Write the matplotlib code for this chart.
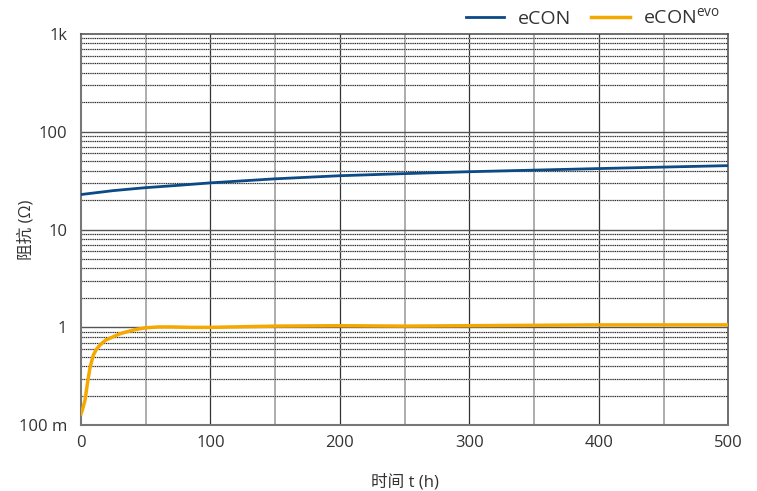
import numpy as np
import matplotlib.pyplot as plt
from matplotlib.ticker import FixedLocator, LogLocator, NullFormatter

plt.rcParams['font.family'] = ['Open Sans', 'Noto Sans CJK SC', 'DejaVu Sans']

# eCON (blue)
t_econ = [0, 25, 50, 75, 100, 150, 200, 250, 300, 350, 400, 450, 500]
r_econ = [22.8, 25.0, 26.8, 28.3, 30.0, 33.0, 35.5, 37.3, 39.0, 40.5, 42.0, 43.5, 45.0]

# eCON evo (orange)
t_evo = [0, 1.5, 3.1, 5, 7, 9.5, 12, 14.7, 19, 24.7, 30, 35.3, 42, 50, 60, 70, 85, 100,
         150, 200, 250, 300, 350, 400, 450, 500]
r_evo = [0.13, 0.15, 0.18, 0.27, 0.39, 0.52, 0.60, 0.66, 0.74, 0.80, 0.86, 0.90, 0.95,
         0.99, 1.01, 1.01, 1.0, 1.0, 1.03, 1.04, 1.03, 1.04, 1.05, 1.06, 1.06, 1.06]

y_ticks = [0.1, 1, 10, 100, 1000]
y_labels = ['100 m', '1', '10', '100', '1k']
x_ticks = [0, 100, 200, 300, 400, 500]

fig = plt.figure(figsize=(7.57, 4.91), dpi=100)
ax = fig.add_axes([0.107, 0.134, 0.855, 0.797])

ax.set_yscale('log')
ax.set_xlim(0, 500)
ax.set_ylim(0.1, 1000)

# grid
for x in range(50, 500, 100):
    ax.axvline(x, color='#a0a0a0', lw=1.2, zorder=1)
for x in range(100, 500, 100):
    ax.axvline(x, color='#333333', lw=0.9, zorder=1)
for d in [0.1, 1, 10, 100]:
    for m in range(2, 10):
        ax.axhline(d * m, color='#c8c8c8', lw=1.0, zorder=1)
        ax.axhline(d * m, color='#222222', lw=0.8, ls=(0, (1, 1)), zorder=1)
for d in [1, 10, 100]:
    ax.axhline(d, color='#555555', lw=1.0, zorder=1)

ax.plot(t_econ, r_econ, color='#0b4a86', lw=2, label='eCON', zorder=3)
ax.plot(t_evo, r_evo, color='#f5a800', lw=2.5, label='eCON$^{\\mathregular{evo}}$', zorder=3)

ax.yaxis.set_major_locator(FixedLocator(y_ticks))
ax.set_yticklabels(y_labels)
ax.yaxis.set_minor_locator(LogLocator(subs=range(2, 10)))
ax.yaxis.set_minor_formatter(NullFormatter())
ax.set_xticks(x_ticks)
ax.tick_params(which='both', length=0, labelsize=12, colors='#333333')
ax.tick_params(axis='y', pad=10)
ax.tick_params(axis='x', pad=7)

for s in ['left', 'bottom']:
    ax.spines[s].set_color('#777777')
    ax.spines[s].set_linewidth(1.5)
for s in ['top', 'right']:
    ax.spines[s].set_color('#555555')
    ax.spines[s].set_linewidth(1.2)

ax.set_xlabel('时间 t (h)', fontsize=12, color='#333333')
ax.set_ylabel('阻抗 (Ω)', fontsize=12, color='#333333')
ax.xaxis.set_label_coords(0.5, -0.125)
ax.yaxis.set_label_coords(-0.072, 0.5)

ax.legend(loc='lower right', bbox_to_anchor=(1.015, 0.97), ncol=2, frameon=False,
          fontsize=14, handlelength=2.0, columnspacing=1.0, handletextpad=0.7,
          labelcolor='#333333')

plt.savefig('out.png', dpi=100)
